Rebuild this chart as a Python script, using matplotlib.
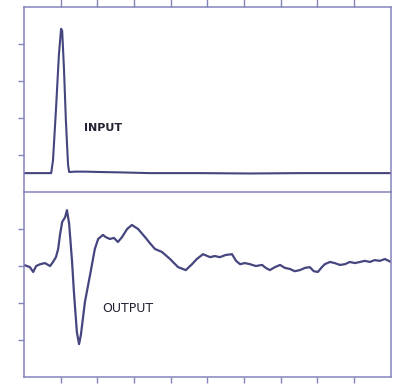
import matplotlib.pyplot as plt

# input pulse (top trace)
in_x = [0.00, 0.30, 0.57, 0.74, 0.79, 0.87, 0.95, 1.01, 1.04, 1.09, 1.14, 1.20, 1.23,
        1.39, 1.66, 2.07, 2.62, 3.43, 4.80, 6.16, 7.52, 8.88, 10.0]
in_y = [0.51, 0.51, 0.51, 0.51, 0.86, 2.22, 3.70, 4.41, 4.35, 3.30, 1.95, 0.73, 0.54,
        0.55, 0.55, 0.54, 0.53, 0.51, 0.51, 0.50, 0.51, 0.51, 0.51]

# output response (bottom trace)
out_x = [0.00, 0.16, 0.25, 0.33, 0.44, 0.57, 0.71, 0.79, 0.87, 0.93, 0.98, 1.04, 1.12,
         1.17, 1.23, 1.31, 1.36, 1.44, 1.50, 1.55, 1.66, 1.80, 1.93, 2.02, 2.15, 2.23,
         2.34, 2.45, 2.56, 2.67, 2.81, 2.94, 3.11, 3.30, 3.43, 3.57, 3.76, 3.98, 4.20,
         4.41, 4.58, 4.71, 4.88, 5.07, 5.20, 5.34, 5.50, 5.67, 5.78, 5.89, 6.02, 6.16,
         6.32, 6.49, 6.59, 6.70, 6.84, 6.98, 7.11, 7.25, 7.38, 7.52, 7.66, 7.79, 7.90,
         8.01, 8.12, 8.20, 8.34, 8.47, 8.61, 8.75, 8.88, 9.02, 9.16, 9.29, 9.43, 9.56,
         9.70, 9.84, 10.0]
out_y = [3.03, 2.97, 2.84, 3.00, 3.05, 3.08, 3.00, 3.11, 3.24, 3.46, 3.84, 4.19, 4.32,
         4.51, 4.14, 3.11, 2.30, 1.22, 0.89, 1.14, 2.03, 2.76, 3.46, 3.73, 3.84, 3.78,
         3.73, 3.76, 3.65, 3.78, 4.00, 4.11, 4.00, 3.78, 3.62, 3.46, 3.38, 3.19, 2.97,
         2.89, 3.05, 3.19, 3.32, 3.24, 3.27, 3.24, 3.30, 3.32, 3.14, 3.05, 3.08, 3.05,
         3.00, 3.03, 2.95, 2.89, 2.97, 3.03, 2.95, 2.92, 2.86, 2.89, 2.95, 2.97, 2.86,
         2.84, 2.97, 3.05, 3.11, 3.08, 3.03, 3.05, 3.11, 3.08, 3.11, 3.14, 3.11, 3.16,
         3.14, 3.19, 3.11]

x_ticks = [1, 2, 3, 4, 5, 6, 7, 8, 9]
y_ticks = [1, 2, 3, 4]

frame = '#8484ba'
trace = '#45457f'

fig = plt.figure(figsize=(3.94, 3.84), dpi=100)
ax1 = fig.add_axes([0.061, 0.5, 0.931, 0.482])
ax2 = fig.add_axes([0.061, 0.018, 0.931, 0.482])

ax1.plot(in_x, in_y, color=trace, lw=1.5)
ax2.plot(out_x, out_y, color=trace, lw=1.6)

for ax in (ax1, ax2):
    ax.set_xlim(0, 10)
    ax.set_ylim(0, 5)
    ax.set_yticks(y_ticks)
    ax.set_yticklabels([])
    ax.set_xticks(x_ticks)
    ax.set_xticklabels([])
    for s in ax.spines.values():
        s.set_color(frame)
        s.set_linewidth(1.1)
    ax.tick_params(direction='out', color=frame, width=1.0, length=4)

ax1.xaxis.tick_top()
ax1.tick_params(axis='x', length=6)
ax1.spines['bottom'].set_visible(False)

ax1.text(1.63, 1.73, 'INPUT', fontsize=8, fontweight='bold', color='#222233',
         va='center', ha='left')
ax2.text(2.13, 1.86, 'OUTPUT', fontsize=9, color='#222233', va='center', ha='left')

fig.savefig('out.png', dpi=100)
